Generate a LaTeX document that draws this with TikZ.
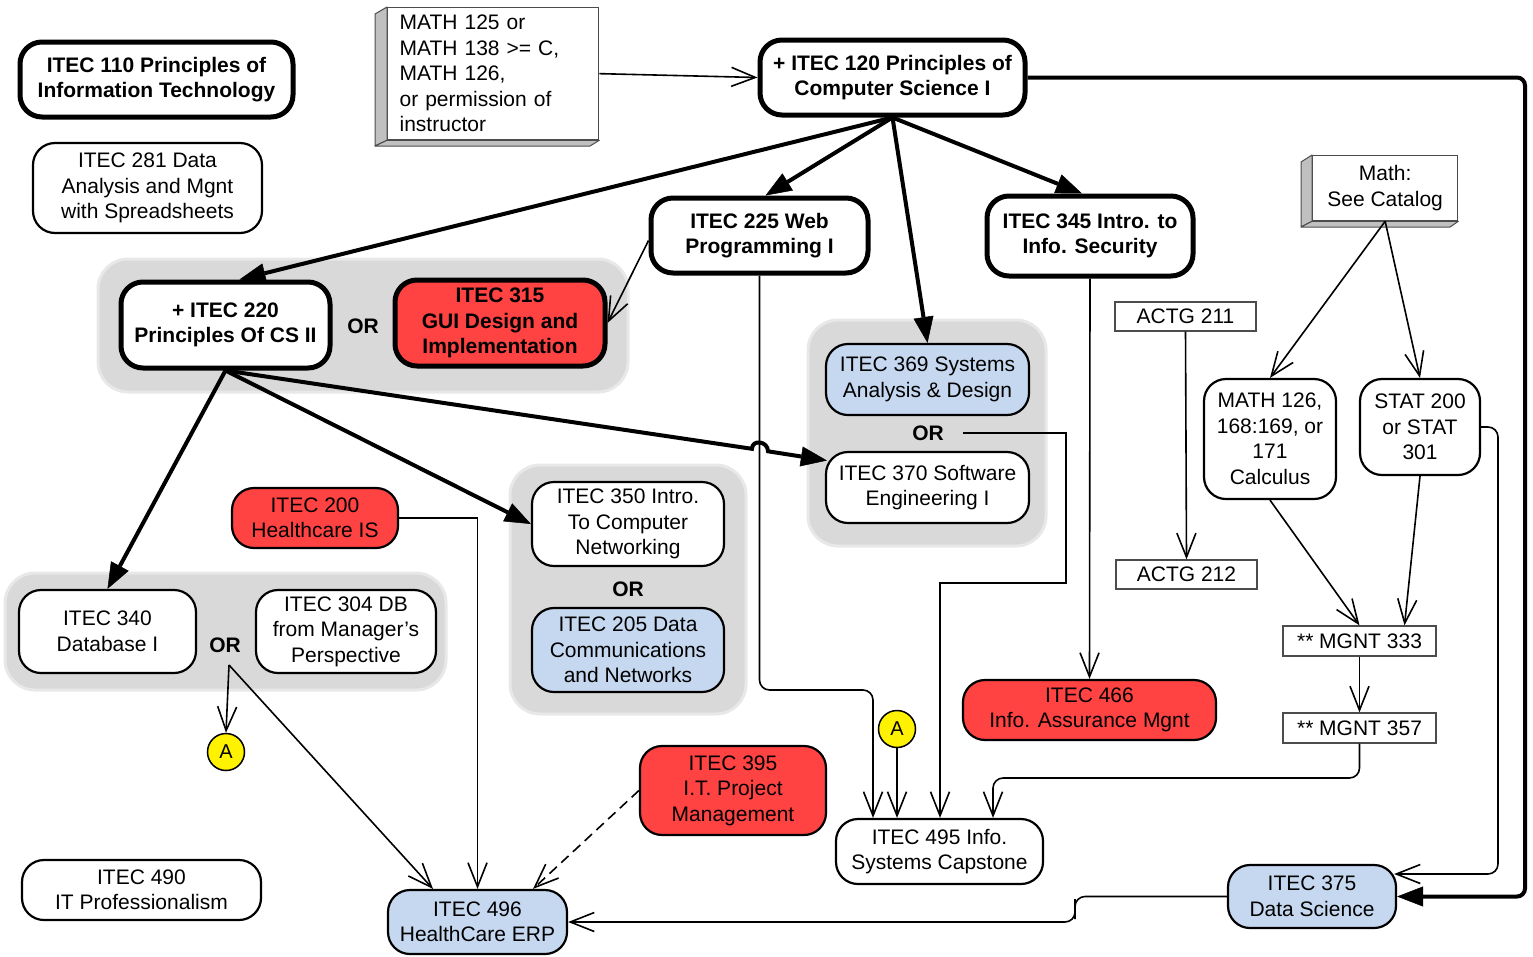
\documentclass[tikz,border=0pt]{standalone}
\usepackage{fontspec}
\setmainfont{Liberation Sans}
\usetikzlibrary{arrows.meta,calc}
\definecolor{cred}{RGB}{255,66,66}
\definecolor{cblue}{RGB}{198,216,240}
\definecolor{cgrp}{RGB}{217,217,217}
\definecolor{cgrpb}{RGB}{232,232,232}
\definecolor{cbevel}{RGB}{192,192,192}
\tikzset{
  course/.style={draw, rounded corners=22pt, align=center, inner sep=0pt, fill=white, line width=2.2pt, font=\fontsize{21}{25.5}\selectfont},
  boldcourse/.style={course, line width=5pt, font=\fontsize{21}{25.5}\selectfont\bfseries},
  plainbox/.style={draw=black!70, line width=1.3pt, fill=white, inner sep=0pt, font=\fontsize{21}{25.5}\selectfont},
  grp/.style={fill=cgrp, draw=cgrpb, line width=3pt, rounded corners=30pt},
  orlabel/.style={font=\fontsize{21}{25.5}\selectfont\bfseries, inner sep=0pt},
  bevel/.style={fill=cbevel, draw=black!70, line width=1pt, line join=round},
  conn/.style={circle, draw, fill=yellow, line width=1.5pt, minimum size=37pt, inner sep=0pt, font=\fontsize{20}{24}\selectfont},
  thinl/.style={line width=1.6pt},
  thickl/.style={line width=4pt},
  oarrow/.style={-{Straight Barb[length=24pt,width=19pt]}},
  farrow/.style={-{Triangle[length=26pt,width=20pt,line width=0.5pt]}}
}
\begin{document}
\begin{tikzpicture}[x=1pt,y=-1pt]
\useasboundingbox (0,0) rectangle (1533,956);
% groups
\draw[grp] (98,259) rectangle (628,392);
\draw[grp] (808,320) rectangle (1046,546);
\draw[grp] (510,465) rectangle (746,714);
\draw[grp] (5,573) rectangle (446,690);
% nodes
\node[boldcourse, minimum width=273pt, minimum height=75pt] (i110) at (156.5,79.5) {ITEC 110 Principles of\\Information Technology};
\node[course, minimum width=229pt, minimum height=90pt] (i281) at (147.5,188) {ITEC 281 Data\\Analysis and Mgnt\\with Spreadsheets};
\node[plainbox, minimum width=211pt, minimum height=132pt, anchor=north west, inner xsep=12pt, text width=187pt, align=left] (math) at (387,7) {MATH 125 or\\MATH 138 >= C,\\MATH 126,\\or permission of\\instructor};
\filldraw[bevel] (375,14) -- (math.north west) -- (math.south west) -- (375,146) -- cycle;
\filldraw[bevel] (375,146) -- (math.south west) -- (math.south east) -- (590,146) -- cycle;
\node[boldcourse, minimum width=265pt, minimum height=75pt] (i120) at (892.5,77.5) {+ ITEC 120 Principles of\\Computer Science I};
\node[plainbox, minimum width=145pt, minimum height=65pt, anchor=north west, align=center] (mcat) at (1312,155) {Math:\\See Catalog};
\filldraw[bevel] (1301,162) -- (mcat.north west) -- (mcat.south west) -- (1301,227) -- cycle;
\filldraw[bevel] (1301,227) -- (mcat.south west) -- (mcat.south east) -- (1450,227) -- cycle;
\node[boldcourse, minimum width=217pt, minimum height=75pt] (i225) at (759.5,235.5) {ITEC 225 Web\\Programming I};
\node[boldcourse, minimum width=206pt, minimum height=80pt] (i345) at (1090,236) {ITEC 345 Intro. to\\Info. Security};
\node[boldcourse, minimum width=209pt, minimum height=86pt] (i220) at (225.5,325) {+ ITEC 220\\Principles Of CS II};
\node[orlabel] (or1) at (363,326) {OR};
\node[boldcourse, fill=cred, minimum width=210pt, minimum height=86pt] (i315) at (500,323) {ITEC 315\\GUI Design and\\Implementation};
\node[plainbox, minimum width=141pt, minimum height=29pt] (a211) at (1185.5,316.5) {ACTG 211};
\node[plainbox, minimum width=141pt, minimum height=29pt] (a212) at (1186.5,574.5) {ACTG 212};
\node[course, fill=cblue, minimum width=203pt, minimum height=71pt] (i369) at (927.5,379.5) {ITEC 369 Systems\\Analysis \& Design};
\node[orlabel] (or2) at (928,433) {OR};
\node[course, minimum width=203pt, minimum height=71pt] (i370) at (927.5,487.5) {ITEC 370 Software\\Engineering I};
\node[course, minimum width=132pt, minimum height=120pt] (m126) at (1270,439) {MATH 126,\\168:169, or\\171\\Calculus};
\node[course, minimum width=120pt, minimum height=96pt] (s200) at (1420,427) {STAT 200\\or STAT\\301};
\node[course, minimum width=192pt, minimum height=84pt] (i350) at (628,524) {ITEC 350 Intro.\\To Computer\\Networking};
\node[orlabel] (or3) at (628,589) {OR};
\node[course, fill=cblue, minimum width=192pt, minimum height=84pt] (i205) at (628,650) {ITEC 205 Data\\Communications\\and Networks};
\node[course, fill=cred, minimum width=166pt, minimum height=60pt] (i200) at (315,518) {ITEC 200\\Healthcare IS};
\node[course, minimum width=177pt, minimum height=83pt] (i340) at (107.5,631.5) {ITEC 340\\Database I};
\node[orlabel] (or4) at (225,645) {OR};
\node[course, minimum width=180pt, minimum height=83pt] (i304) at (346,631.5) {ITEC 304 DB\\from Manager’s\\Perspective};
\node[conn] (A1) at (226,752) {A};
\node[plainbox, minimum width=153pt, minimum height=30pt] (m333) at (1359.5,641) {** MGNT 333};
\node[plainbox, minimum width=153pt, minimum height=30pt] (m357) at (1359.5,728) {** MGNT 357};
\node[course, fill=cred, minimum width=253pt, minimum height=60pt] (i466) at (1089.5,710) {ITEC 466\\Info. Assurance Mgnt};
\node[conn] (A2) at (897,729) {A};
\node[course, fill=cred, minimum width=186pt, minimum height=89pt] (i395) at (733,790.5) {ITEC 395\\I.T. Project\\Management};
\node[course, minimum width=207pt, minimum height=65pt] (i495) at (939.5,851.5) {ITEC 495 Info.\\Systems Capstone};
\node[course, minimum width=239pt, minimum height=60pt] (i490) at (141.5,890) {ITEC 490\\IT Professionalism};
\node[course, fill=cblue, minimum width=179pt, minimum height=64pt] (i496) at (477.5,922) {ITEC 496\\HealthCare ERP};
\node[course, fill=cblue, minimum width=168pt, minimum height=63pt] (i375) at (1312,896.5) {ITEC 375\\Data Science};
% helper coordinates
\coordinate (c375) at (1525,896.5);
\coordinate (c225) at (873,690);
\coordinate (c370) at (1066,583);
\coordinate (c357) at (993,778);
\coordinate (cst) at (1498,874);
\coordinate (c375b) at (1075,909);
\coordinate (cor4) at (229,665);
% connectors
\draw[thinl,oarrow] (math.east) -- (i120.west);
\draw[thickl,farrow] (i120.south) -- ($(i220.north)+(14,0)$);
\draw[thickl,farrow] (i120.south) -- ($(i225.north)+(6,0)$);
\draw[thickl,farrow] (i120.south) -- (i369.north);
\draw[thickl,farrow] (i120.south) -- ($(i345.north)+(-8,0)$);
\draw[thickl,farrow,rounded corners=8pt] (i120.east) -| (c375) -- (i375.east);
\draw[thinl,oarrow] ($(i225.west)+(0,5)$) -- (i315.east);
\draw[thinl,oarrow,rounded corners=10pt] (i225.south) |- (c225) -- ($(i495.north)+(-66.5,0)$);
\draw[thickl,farrow] (i220.south) -- (i340.north);
\draw[thickl,farrow] (i220.south) -- (i350.west);
\draw[thickl,farrow] (i220.south) -- (752,448.8) .. controls (752,439) and (768,441) .. (768,451.3) -- ($(i370.west)+(2,-27)$);
\draw[thinl,oarrow] (i345.south) -- (i466.north);
\draw[thinl,oarrow] ($(or2)+(35,0)$) -| (c370) -| ($(i495.north)+(0.5,0)$);
\draw[thinl,oarrow] (A2.south) -- ($(i495.north)+(-42.5,0)$);
\draw[thinl,oarrow,rounded corners=10pt] (m357.south) |- (c357) -- ($(i495.north)+(53.5,0)$);
\draw[thinl,oarrow] (a211.south) -- (a212.north);
\draw[thinl,oarrow] (mcat.south) -- (m126.north);
\draw[thinl,oarrow] (mcat.south) -- (s200.north);
\draw[thinl,oarrow] (m126.south) -- (m333.north);
\draw[thinl,oarrow] (s200.south) -- ($(m333.north)+(45,0)$);
\draw[thinl,oarrow] (m333.south) -- (m357.north);
\draw[thinl,oarrow,rounded corners=10pt] (s200.east) -| (cst) -- ($(i375.east)+(-3,-22.5)$);
\draw[thinl,oarrow,rounded corners=10pt] (i375.west) -| (c375b) |- (i496.east);
\draw[thinl,oarrow] (i200.east) -| (i496.north);
\draw[thinl,oarrow] (cor4) -- (A1.north);
\draw[thinl,oarrow] (cor4) -- ($(i496.north)+(-44.5,0)$);
\draw[thinl,oarrow,dash pattern=on 10pt off 6pt] (i395.west) -- ($(i496.north)+(55.5,0)$);
\end{tikzpicture}
\end{document}
